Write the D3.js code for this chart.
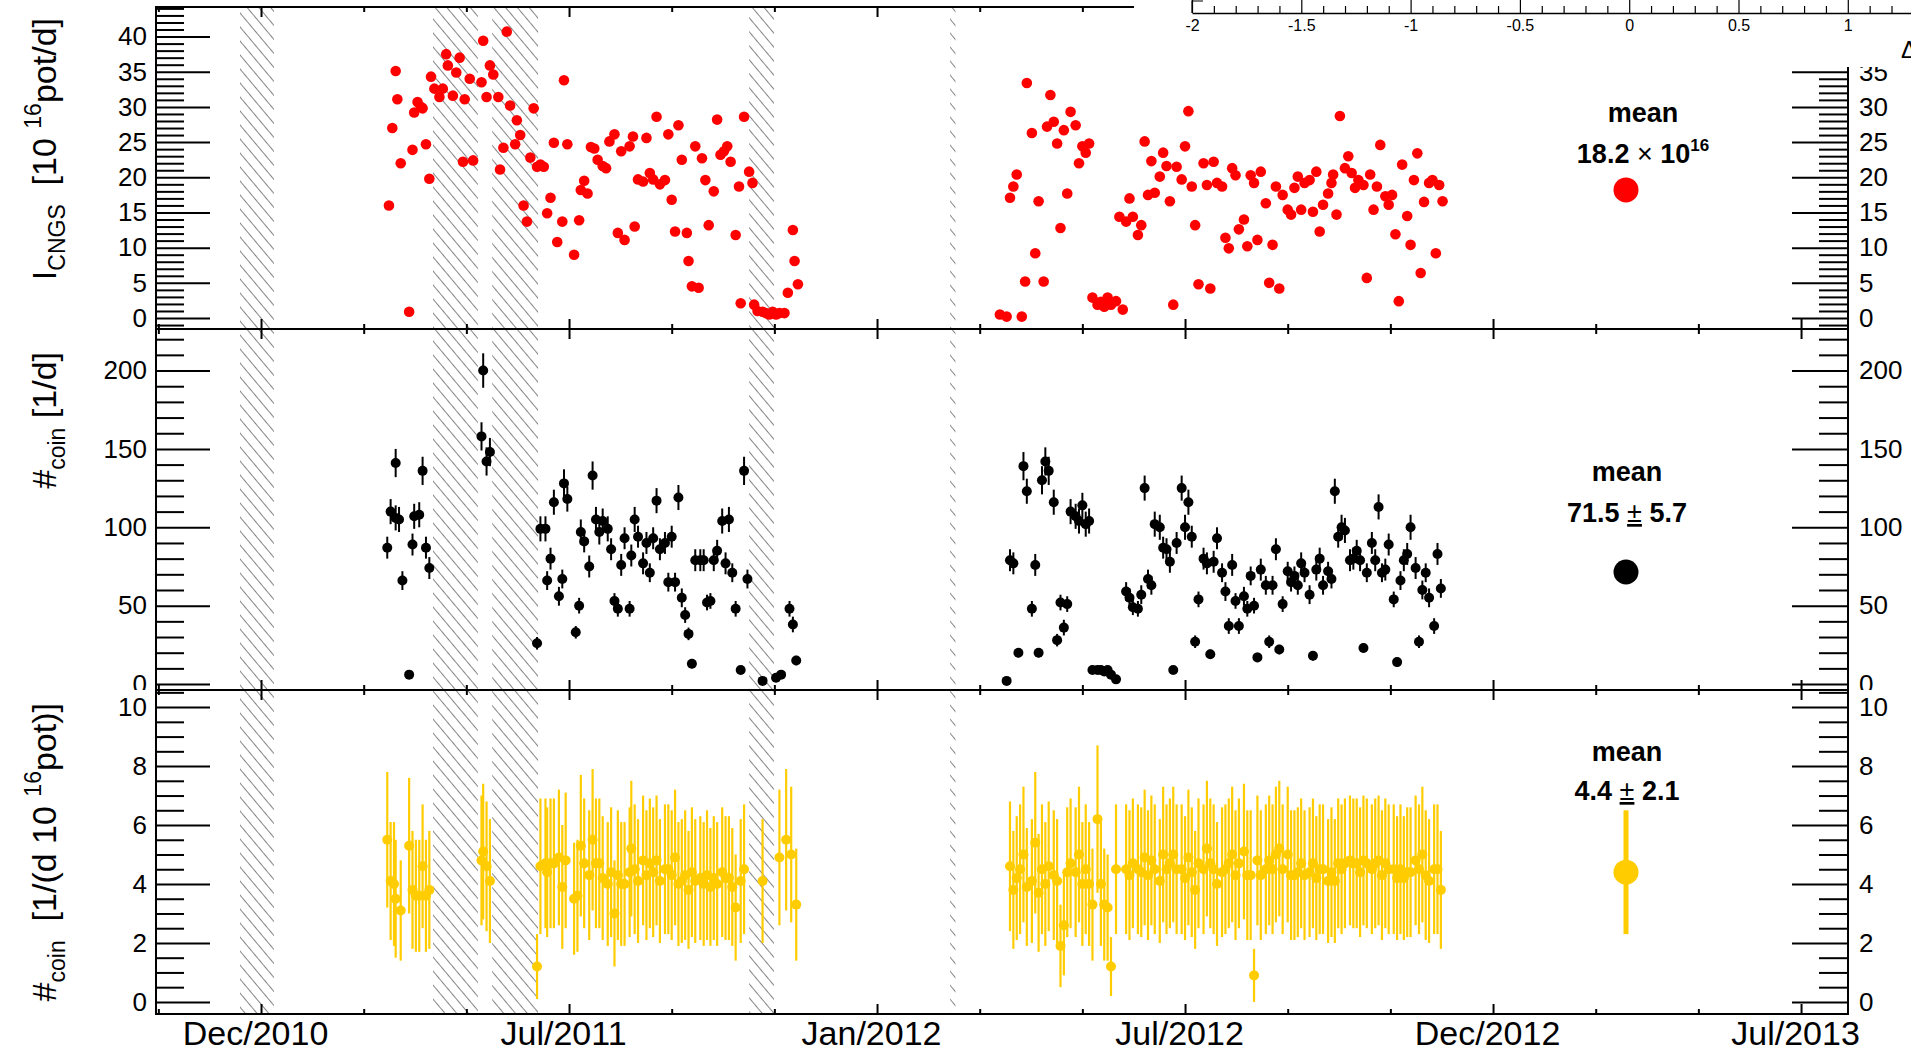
<!DOCTYPE html>
<html>
<head>
<meta charset="utf-8">
<script src="https://cdn.jsdelivr.net/npm/d3@7"></script>
<style>
  body { margin: 0; background: #fff; }
  svg { display: block; }
  text { font-family: "Liberation Sans", Arial, Helvetica, sans-serif; fill: #000; }
</style>
</head>
<body>
<svg id="chart" width="1911" height="1053"></svg>
<script>
// ---- time axis: day offsets and their labels ----
const tickDays   = [0, 183, 366, 549, 732, 915];
const tickLabels = ["Dec/2010", "Jul/2011", "Jan/2012", "Jul/2012", "Dec/2012", "Jul/2013"];

// beam-off periods (start day, end day), drawn hatched
const beamOff = [[-12.5, 7.7], [102.2, 128.9], [137.3, 164.6], [290.0, 304.8], [409.4, 412.6]];

// CNGS intensity per day [day, 10^16 pot/d]
const intensity = [
  [76,16.0],[78,27.0],[80,35.1],[81,31.1],[83,22.0],[88,0.9],[90,23.9],[91,29.2],[93,30.7],[95,30.0],
  [96,29.8],[98,24.7],[100,19.8],[101,34.3],[103,32.6],[106,31.4],[108,32.6],[110,37.5],[111,35.9],[114,31.6],
  [116,34.9],[118,37.0],[120,22.2],[121,31.1],[124,34.0],[126,22.4],[131,33.5],[132,39.4],[134,31.4],[136,35.9],
  [138,34.6],[141,31.4],[142,21.1],[144,24.2],[146,40.7],[148,30.2],[151,24.7],[152,28.1],[154,26.0],[156,16.0],
  [158,13.7],[160,22.8],[162,29.8],[164,21.5],[166,21.8],[168,21.5],[170,14.9],[172,17.1],[174,24.9],[176,10.8],
  [179,13.7],[180,33.8],[182,24.7],[186,9.0],[189,13.9],[190,18.2],[192,19.5],[194,17.7],[196,24.3],
  [198,24.1],[200,22.5],[203,21.6],[205,21.3],[207,25.1],[210,26.1],[212,12.1],[214,23.7],[216,11.1],[219,24.4],
  [221,25.8],[222,13.0],[224,19.7],[227,19.4],[229,25.6],[231,20.6],[233,19.7],[235,28.6],[237,19.0],[240,19.6],
  [242,26.1],[244,16.8],[246,12.3],[248,27.4],[250,22.5],[253,12.1],[254,8.1],[256,4.5],[258,24.4],[260,4.3],
  [262,22.7],[264,19.6],[266,13.2],[269,18.0],[271,28.2],[273,23.2],[275,23.7],[277,24.4],[279,22.2],[282,11.8],
  [284,18.7],[285,2.1],[287,28.6],[290,20.8],[292,19.2],[293,1.9],[295,1.0],[298,0.9],[300,0.7],[302,0.5],
  [304,0.9],[306,0.5],[308,0.7],[311,0.7],[313,3.6],[316,12.5],[317,8.1],[319,4.8],
  [439,0.5],[443,0.2],[445,17.1],[447,18.7],[449,20.4],[452,0.2],[454,5.2],[455,33.4],[458,26.3],[460,9.2],
  [462,16.6],[465,5.2],[467,27.2],[469,31.7],[471,27.9],[473,24.8],[475,12.8],[477,26.7],[479,17.7],[481,29.3],
  [484,27.4],[486,22.0],[488,24.4],[490,23.5],[492,24.8],[494,2.9],[497,1.9],[499,2.3],[501,1.6],[503,2.9],
  [505,1.9],[508,2.4],[510,14.4],[512,1.2],[514,13.7],[516,17.0],[518,14.4],[521,11.8],[523,13.2],[525,25.1],
  [527,17.5],[529,22.3],[531,17.8],[534,20.1],[536,23.5],[538,21.6],[540,16.6],[542,1.9],[544,21.5],[547,19.7],
  [549,24.4],[551,29.4],[553,18.7],[555,13.2],[557,4.8],[560,22.0],[562,18.9],[564,4.2],[566,22.2],[568,19.2],
  [571,18.7],[573,11.4],[575,9.9],[577,21.3],[579,20.3],[581,12.6],[584,14.0],[586,10.2],[588,20.3],[590,19.2],
  [592,11.1],[594,20.8],[597,16.3],[599,5.0],[601,10.4],[603,18.7],[605,4.2],[607,17.5],[610,15.4],[612,14.7],
  [614,18.5],[616,20.1],[618,15.4],[620,19.2],[623,19.6],[625,15.1],[627,20.8],[629,12.3],[631,16.1],[634,17.7],
  [636,19.2],[637,20.4],[639,14.7],[641,28.7],[644,21.3],[646,23.0],[648,20.6],[650,18.5],[652,19.6],[655,18.9],
  [657,5.7],[659,20.4],[661,15.4],[663,18.7],[665,24.6],[668,17.3],[670,16.1],[672,17.5],[674,11.9],[676,2.4],
  [678,21.8],[681,14.5],[683,10.4],[685,19.6],[687,23.4],[689,6.4],[691,16.5],[694,19.2],[696,19.6],[698,9.2],
  [700,18.9],[702,16.6]
];

// coincidences per day [day, count, error]
const coincidences = [
  [75,87,7],[77,110,8],[80,141,9],[80,106,8],[82,105,8],[84,66,6],[88,6,2],[90,89,7],[91,107,8],[94,108,8],
  [96,136,9],[98,87,7],[100,74,7],[131,158,9],[132,200,11],[134,142,9],[136,148,9],[164,26,4],[166,99,8],[169,99,8],
  [170,66,6],[172,80,7],[174,116,8],[177,56,6],[179,67,6],[180,128,9],[182,118,8],[187,33,4],[189,50,5],[190,97,8],
  [192,91,7],[195,75,7],[197,133,9],[199,105,8],
  [201,97,8],[203,104,8],[206,99,8],[208,86,7],[210,53,5],[212,48,5],[214,76,7],[216,93,7],[219,48,5],[220,82,7],
  [222,105,8],[224,94,7],[227,77,7],[229,90,7],[231,71,6],[233,93,7],[235,117,8],[237,86,7],[240,90,7],[242,65,6],
  [244,94,7],[246,65,6],[248,119,8],[250,55,6],[252,44,5],[254,32,4],[256,13,3],[258,79,7],[261,79,7],[263,79,7],
  [265,52,5],[267,53,5],[269,79,7],[271,85,7],[274,104,8],[276,77,7],[278,105,8],[280,71,6],[282,48,5],[285,9,2],
  [287,136,9],[289,67,6],[298,2,1],[306,4,2],[309,6,2],[314,48,5],[316,38,5],[318,15,3],
  [443,2,1],[445,79,7],[447,77,7],[450,20,3],[453,139,9],[455,123,8],[458,48,5],[460,76,7],[462,20,3],[464,130,9],
  [466,142,9],[468,136,9],[471,116,8],[473,28,4],[475,52,5],[477,36,5],[479,51,5],[481,110,8],[484,107,8],[486,104,8],
  [488,114,8],[490,102,8],[492,104,8],[494,9,2],[497,9,2],[499,9,2],[501,8,2],[503,9,2],[505,6,2],[508,3,1],
  [514,59,6],[516,55,6],[518,49,5],[521,48,5],[523,57,6],[525,125,8],[527,67,6],[529,63,6],[531,102,8],[534,100,8],
  [536,87,7],[538,86,7],[540,78,7],[542,9,2],[544,90,7],[547,125,8],[549,100,8],[551,116,8],[553,94,7],[555,27,4],
  [557,54,5],[560,80,7],[562,77,7],[564,19,3],[566,78,7],[568,93,7],[571,71,6],[573,59,6],[575,37,5],[577,76,7],
  [579,53,5],[581,37,5],[584,56,6],[586,48,5],[588,69,6],[590,50,5],[592,17,3],[594,73,7],[597,63,6],[599,27,4],
  [601,63,6],[603,86,7],[605,22,3],[607,51,5],[610,72,6],[612,65,6],[614,69,6],[616,63,6],[618,77,7],[620,71,6],
  [623,57,6],[625,18,3],[627,73,7],[629,80,7],[631,63,6],[634,72,6],[636,67,6],[638,123,8],[640,94,7],[642,100,8],
  [644,98,8],[647,79,7],[649,80,7],[651,85,7],[653,79,7],[655,23,3],[657,71,6],[660,90,7],[662,79,7],[664,113,8],
  [666,71,6],[668,73,7],[670,89,7],[673,54,5],[675,14,3],[677,66,6],[679,79,7],[681,83,7],[683,100,8],[686,74,7],
  [688,27,4],[690,60,6],[692,71,6],[694,55,6],[697,37,5],[699,83,7],[701,61,6]
];

// coincidences normalised to intensity [day, value, error]
const normalised = [
  [75,5.5,2.3],[77,4.1,2.0],[79,4.0,2.1],[80,3.5,2.0],[83,3.1,1.7],[88,5.3,2.3],[90,3.8,2.0],[92,3.6,1.9],[94,3.6,1.9],[96,4.6,2.1],
  [98,3.6,1.9],[100,3.8,2.0],[131,4.8,2.2],[132,5.1,2.3],[134,4.6,2.2],[136,4.1,2.1],[164,1.2,1.1],[166,4.6,2.3],[169,4.7,2.2],[170,4.4,2.2],
  [172,4.7,2.2],[174,4.7,2.2],[177,4.9,2.3],[179,3.9,2.1],[181,4.8,2.3],[186,3.5,1.9],[188,3.6,1.9],[190,5.3,2.4],[192,4.7,2.2],[195,4.3,2.2],
  [197,5.5,2.4],[199,4.7,2.2],
  [201,4.7,2.2],[203,4.2,2.1],[206,4.0,2.1],[208,4.4,2.2],[210,3.0,1.8],[212,4.3,2.2],[214,4.0,2.1],[216,4.0,2.1],[219,4.4,2.2],[220,5.2,2.3],
  [222,4.5,2.2],[224,4.1,2.1],[227,4.8,2.2],[229,4.3,2.2],[231,4.7,2.2],[233,4.4,2.2],[235,4.8,2.2],[237,4.1,2.1],[240,4.5,2.2],[242,4.5,2.2],
  [244,4.3,2.2],[246,4.9,2.3],[248,4.0,2.1],[250,4.1,2.1],[252,4.3,2.2],[254,3.8,2.0],[256,4.4,2.2],[258,4.1,2.1],[261,4.2,2.1],[263,4.0,2.1],
  [265,4.3,2.2],[267,3.9,2.0],[269,4.2,2.1],[271,4.0,2.1],[274,4.4,2.2],[276,4.2,2.1],[278,4.2,2.1],[280,3.9,2.0],[282,3.2,1.8],[285,4.1,2.1],
  [287,4.5,2.2],[298,4.1,2.1],[308,4.9,2.3],[312,5.5,2.4],[315,5.0,2.3],[318,3.3,1.9],
  [445,4.6,2.2],[447,3.8,2.0],[449,4.2,2.1],[451,4.5,2.2],[453,5.0,2.3],[455,3.9,2.0],[458,4.1,2.1],[460,5.4,2.4],[462,3.7,2.0],[464,4.5,2.2],
  [466,4.0,2.1],[468,4.6,2.2],[471,4.3,2.2],[473,4.1,2.1],[475,1.9,1.4],[477,2.6,1.7],[479,4.4,2.2],[481,4.7,2.2],[484,4.4,2.2],[486,5.0,2.3],
  [488,4.0,2.1],[490,4.5,2.2],[492,4.0,2.1],[494,3.3,1.9],[497,6.2,2.5],[499,4.0,2.1],[501,3.3,1.9],[503,3.2,1.8],[505,1.2,1.0],[508,4.5,2.2],
  [514,4.5,2.2],[516,4.3,2.2],[518,4.7,2.2],[521,4.5,2.2],[523,4.4,2.2],[525,4.9,2.3],[527,4.3,2.2],[529,4.8,2.2],[531,4.5,2.2],[534,4.1,2.1],
  [536,5.0,2.3],[538,4.5,2.2],[540,4.7,2.2],[542,5.0,2.3],[544,4.5,2.2],[547,4.5,2.2],[549,4.2,2.1],[551,4.9,2.3],[553,4.4,2.2],[555,3.8,2.0],
  [557,4.7,2.2],[560,4.5,2.2],[562,5.2,2.3],[564,4.7,2.2],[566,4.5,2.2],[568,4.0,2.1],[571,4.4,2.2],[573,4.5,2.2],[575,4.7,2.2],[577,5.0,2.3],
  [579,4.3,2.2],[581,4.7,2.2],[584,5.1,2.3],[586,4.3,2.2],[588,4.3,2.2],[590,0.9,0.9],[592,4.8,2.2],[594,4.3,2.2],[597,4.5,2.2],[599,4.8,2.2],
  [601,4.5,2.2],[603,5.0,2.3],[605,5.2,2.3],[607,4.5,2.2],[610,5.0,2.3],[612,4.3,2.2],[614,4.3,2.2],[616,4.4,2.2],[618,4.7,2.2],[620,4.3,2.2],
  [623,4.4,2.2],[625,4.7,2.2],[627,4.2,2.1],[629,4.5,2.2],[631,4.5,2.2],[634,4.1,2.1],[636,4.4,2.2],[638,4.1,2.1],[640,4.7,2.2],[642,4.5,2.2],
  [644,4.7,2.2],[647,4.8,2.2],[649,4.7,2.2],[651,4.7,2.2],[653,4.4,2.2],[655,4.8,2.2],[657,4.7,2.2],[660,4.5,2.2],[662,4.7,2.2],[664,4.8,2.2],
  [666,4.3,2.2],[668,4.7,2.2],[670,4.5,2.2],[673,4.5,2.2],[675,4.2,2.1],[677,4.5,2.2],[679,4.2,2.1],[681,4.4,2.2],[683,4.4,2.2],[686,4.8,2.2],
  [688,4.5,2.2],[690,5.0,2.3],[692,4.3,2.2],[694,4.1,2.1],[697,4.5,2.2],[699,4.5,2.2],[701,3.8,2.0]
];

// means shown at the right of each panel
const meanValues = [18.2, 71.5, 4.4];
const meanErrors = [0, 5.7, 2.1];

// ticks of the partly visible scale above the top-right corner
const deltaTicks = [-2, -1.5, -1, -0.5, 0, 0.5, 1];

// ---------------------------------------------------------------------
const svg = d3.select("#chart");
const FRAME_L = 156, FRAME_R = 1848;
const FONT = '"Liberation Sans", Arial, Helvetica, sans-serif';
const x = d3.scaleLinear().domain([-62.4, 942.9]).range([FRAME_L, FRAME_R]);
const xMinorDays = d3.range(-61, 943, 61).filter(d => !tickDays.includes(d));

// hatch pattern for beam-off periods
const defs = svg.append("defs");
defs.append("pattern")
  .attr("id", "hatch").attr("patternUnits", "userSpaceOnUse")
  .attr("width", 9).attr("height", 9)
  .attr("patternTransform", "rotate(-40)")
  .append("line")
  .attr("x1", 4.5).attr("y1", 0).attr("x2", 4.5).attr("y2", 9)
  .attr("stroke", "#858585").attr("stroke-width", 1);

const panels = [
  { padTop: 0,   padBottom: 329,  top: 7,   bottom: 329,  domain: [-1.56, 44.2], major: 5,  minor: 1,
    data: intensity, color: "#ff0000", errors: false, titleY: 18 },
  { padTop: 329, padBottom: 690,  top: 329, bottom: 690,  domain: [-3.8, 226.5], major: 50, minor: 10,
    data: coincidences, color: "#000000", errors: true, titleY: 352 },
  { padTop: 690, padBottom: 1053, top: 690, bottom: 1014, domain: [-0.41, 10.58], major: 2, minor: 0.5,
    data: normalised, color: "#ffcc00", errors: true, titleY: 703 }
];

function isMultiple(v, step) {
  const r = v / step;
  return Math.abs(r - Math.round(r)) < 1e-6;
}

panels.forEach((p, i) => {
  const g = svg.append("g");
  // pad background
  g.append("rect").attr("x", 0).attr("y", p.padTop)
    .attr("width", 1911).attr("height", p.padBottom - p.padTop).attr("fill", "#fff");

  const y = d3.scaleLinear().domain(p.domain).range([p.bottom, p.top]);
  const majors = d3.range(0, p.domain[1] + 1e-9, p.major);
  const minors = d3.range(Math.ceil(p.domain[0] / p.minor) * p.minor, p.domain[1], p.minor)
    .filter(v => !isMultiple(v, p.major));

  // hatched beam-off bands
  g.append("g").selectAll("rect").data(beamOff).join("rect")
    .attr("x", d => Math.max(FRAME_L, x(d[0])))
    .attr("width", d => x(d[1]) - Math.max(FRAME_L, x(d[0])))
    .attr("y", p.top).attr("height", p.bottom - p.top)
    .attr("fill", "url(#hatch)");

  // data
  const dg = g.append("g");
  if (p.errors) {
    dg.selectAll("line").data(p.data).join("line")
      .attr("x1", d => x(d[0])).attr("x2", d => x(d[0]))
      .attr("y1", d => y(Math.max(p.domain[0], d[1] - d[2])))
      .attr("y2", d => y(d[1] + d[2]))
      .attr("stroke", p.color).attr("stroke-width", i === 1 ? 2 : 2.2);
  }
  dg.selectAll("circle").data(p.data).join("circle")
    .attr("cx", d => x(d[0])).attr("cy", d => y(d[1]))
    .attr("r", i === 0 ? 5.3 : 5.0).attr("fill", p.color);

  // y axes (left and right), ticks pointing into the frame
  const styleAxis = sel => {
    sel.select(".domain").remove();
    sel.selectAll("line").attr("stroke", "#000").attr("stroke-width", 2);
    sel.selectAll("text").attr("font-size", 26).attr("fill", "#000").style("font-family", FONT);
  };
  g.append("g").attr("transform", `translate(${FRAME_L},0)`)
    .call(d3.axisLeft(y).tickValues(majors).tickSizeInner(-54).tickSizeOuter(0).tickPadding(9)
      .tickFormat(d3.format("d")))
    .call(styleAxis);
  g.append("g").attr("transform", `translate(${FRAME_L},0)`)
    .call(d3.axisLeft(y).tickValues(minors).tickSizeInner(-28).tickSizeOuter(0).tickFormat(""))
    .call(styleAxis);
  g.append("g").attr("transform", `translate(${FRAME_R},0)`)
    .call(d3.axisRight(y).tickValues(majors).tickSizeInner(-56).tickSizeOuter(0).tickPadding(11)
      .tickFormat(d3.format("d")))
    .call(styleAxis);
  g.append("g").attr("transform", `translate(${FRAME_R},0)`)
    .call(d3.axisRight(y).tickValues(minors).tickSizeInner(-29).tickSizeOuter(0).tickFormat(""))
    .call(styleAxis);

  // x ticks on bottom edge (pointing up) and top edge (pointing down)
  const xStyle = sel => {
    sel.select(".domain").remove();
    sel.selectAll("line").attr("stroke", "#000").attr("stroke-width", 2);
    sel.selectAll("text").attr("font-size", 34).attr("dx", -6).attr("fill", "#000").style("font-family", FONT);
  };
  g.append("g").attr("transform", `translate(0,${p.bottom})`)
    .call(d3.axisBottom(x).tickValues(tickDays).tickSizeInner(-10).tickSizeOuter(0).tickPadding(7)
      .tickFormat((d, k) => i === 2 ? tickLabels[k] : ""))
    .call(xStyle);
  g.append("g").attr("transform", `translate(0,${p.bottom})`)
    .call(d3.axisBottom(x).tickValues(xMinorDays).tickSizeInner(-5).tickSizeOuter(0).tickFormat(""))
    .call(xStyle);
  g.append("g").attr("transform", `translate(0,${p.top})`)
    .call(d3.axisTop(x).tickValues(tickDays).tickSizeInner(-10).tickSizeOuter(0).tickFormat(""))
    .call(xStyle);
  g.append("g").attr("transform", `translate(0,${p.top})`)
    .call(d3.axisTop(x).tickValues(xMinorDays).tickSizeInner(-5).tickSizeOuter(0).tickFormat(""))
    .call(xStyle);

  // frame
  g.append("rect").attr("x", FRAME_L).attr("y", p.top)
    .attr("width", FRAME_R - FRAME_L).attr("height", p.bottom - p.top)
    .attr("fill", "none").attr("stroke", "#000").attr("stroke-width", 2);

  // mean marker
  const mx = 1626;
  if (meanErrors[i] > 0) {
    g.append("line").attr("x1", mx).attr("x2", mx)
      .attr("y1", y(meanValues[i] - meanErrors[i])).attr("y2", y(meanValues[i] + meanErrors[i]))
      .attr("stroke", p.color).attr("stroke-width", 5);
  }
  g.append("circle").attr("cx", mx).attr("cy", y(meanValues[i])).attr("r", 12.5).attr("fill", p.color);
});

// ---- axis titles ----
function title(yPos, parts) {
  const t = svg.append("text")
    .attr("transform", `translate(56,${yPos}) rotate(-90)`)
    .attr("text-anchor", "end").attr("font-size", 34);
  let shift = 0;
  parts.forEach(([s, kind]) => {
    const ts = t.append("tspan").text(s);
    let target = 0;
    if (kind === "sub") { target = 9; ts.attr("font-size", 23); }
    if (kind === "sup") { target = -15; ts.attr("font-size", 23); }
    ts.attr("dy", target - shift);
    shift = target;
  });
}
title(panels[0].titleY, [["I", ""], ["CNGS", "sub"], ["\u00a0\u00a0[10\u00a0", ""], ["16", "sup"], ["pot/d]", ""]]);
title(panels[1].titleY, [["#", ""], ["coin", "sub"], ["\u00a0[1/d]", ""]]);
title(panels[2].titleY, [["#", ""], ["coin", "sub"], ["\u00a0\u00a0[1/(d 10\u00a0", ""], ["16", "sup"], ["pot)]", ""]]);

// ---- mean labels ----
function meanLabel(cx, y1, y2, build) {
  svg.append("text").attr("x", cx).attr("y", y1).attr("text-anchor", "middle")
    .attr("font-size", 27).attr("font-weight", "bold").text("mean");
  const t = svg.append("text").attr("x", cx).attr("y", y2).attr("text-anchor", "middle")
    .attr("font-size", 27).attr("font-weight", "bold");
  build(t);
}
meanLabel(1643, 122, 163, t => {
  t.append("tspan").text(meanValues[0].toFixed(1) + " ");
  t.append("tspan").attr("font-weight", "normal").text("\u00d7");
  t.append("tspan").text(" 10");
  t.append("tspan").attr("font-size", 17).attr("dy", -12).text("16");
});
meanLabel(1627, 481, 522, t => {
  t.append("tspan").text(meanValues[1].toFixed(1) + " ");
  t.append("tspan").attr("font-weight", "normal").attr("text-decoration", "underline").text("\u00b1");
  t.append("tspan").text(" " + meanErrors[1].toFixed(1));
});
meanLabel(1627, 761, 800, t => {
  t.append("tspan").text(meanValues[2].toFixed(1) + " ");
  t.append("tspan").attr("font-weight", "normal").attr("text-decoration", "underline").text("\u00b1");
  t.append("tspan").text(" " + meanErrors[2].toFixed(1));
});

// ---- scale strip along the top-right corner ----
const ov = svg.append("g");
ov.append("rect").attr("x", 1134).attr("y", 0).attr("width", 777).attr("height", 67).attr("fill", "#fff");
const dx = d3.scaleLinear().domain([-2, 1.3]).range([1192, 1192 + 3.3 * 218.6]);
const dMinor = d3.range(-2, 1.31, 0.1).filter(v => !isMultiple(v, 0.5));
ov.append("g").attr("transform", "translate(0,13)")
  .call(d3.axisBottom(dx).tickValues(deltaTicks).tickSizeInner(-13).tickSizeOuter(0).tickPadding(7)
    .tickFormat(d => String(d)))
  .call(sel => {
    sel.select(".domain").attr("stroke", "#000").attr("stroke-width", 1.5);
    sel.selectAll("line").attr("stroke", "#000").attr("stroke-width", 1.2);
    sel.selectAll("text").attr("font-size", 16).attr("fill", "#000").style("font-family", FONT);
  });
ov.append("g").attr("transform", "translate(0,13)")
  .call(d3.axisBottom(dx).tickValues(dMinor).tickSizeInner(-7).tickSizeOuter(0).tickFormat(""))
  .call(sel => {
    sel.select(".domain").remove();
    sel.selectAll("line").attr("stroke", "#000").attr("stroke-width", 1.2);
  });
ov.append("path").attr("d", "M1203,1H1192V13").attr("fill", "none").attr("stroke", "#000").attr("stroke-width", 1.2);
ov.append("text").attr("x", 1901).attr("y", 58).attr("font-size", 24).text("\u0394");
</script>
</body>
</html>
